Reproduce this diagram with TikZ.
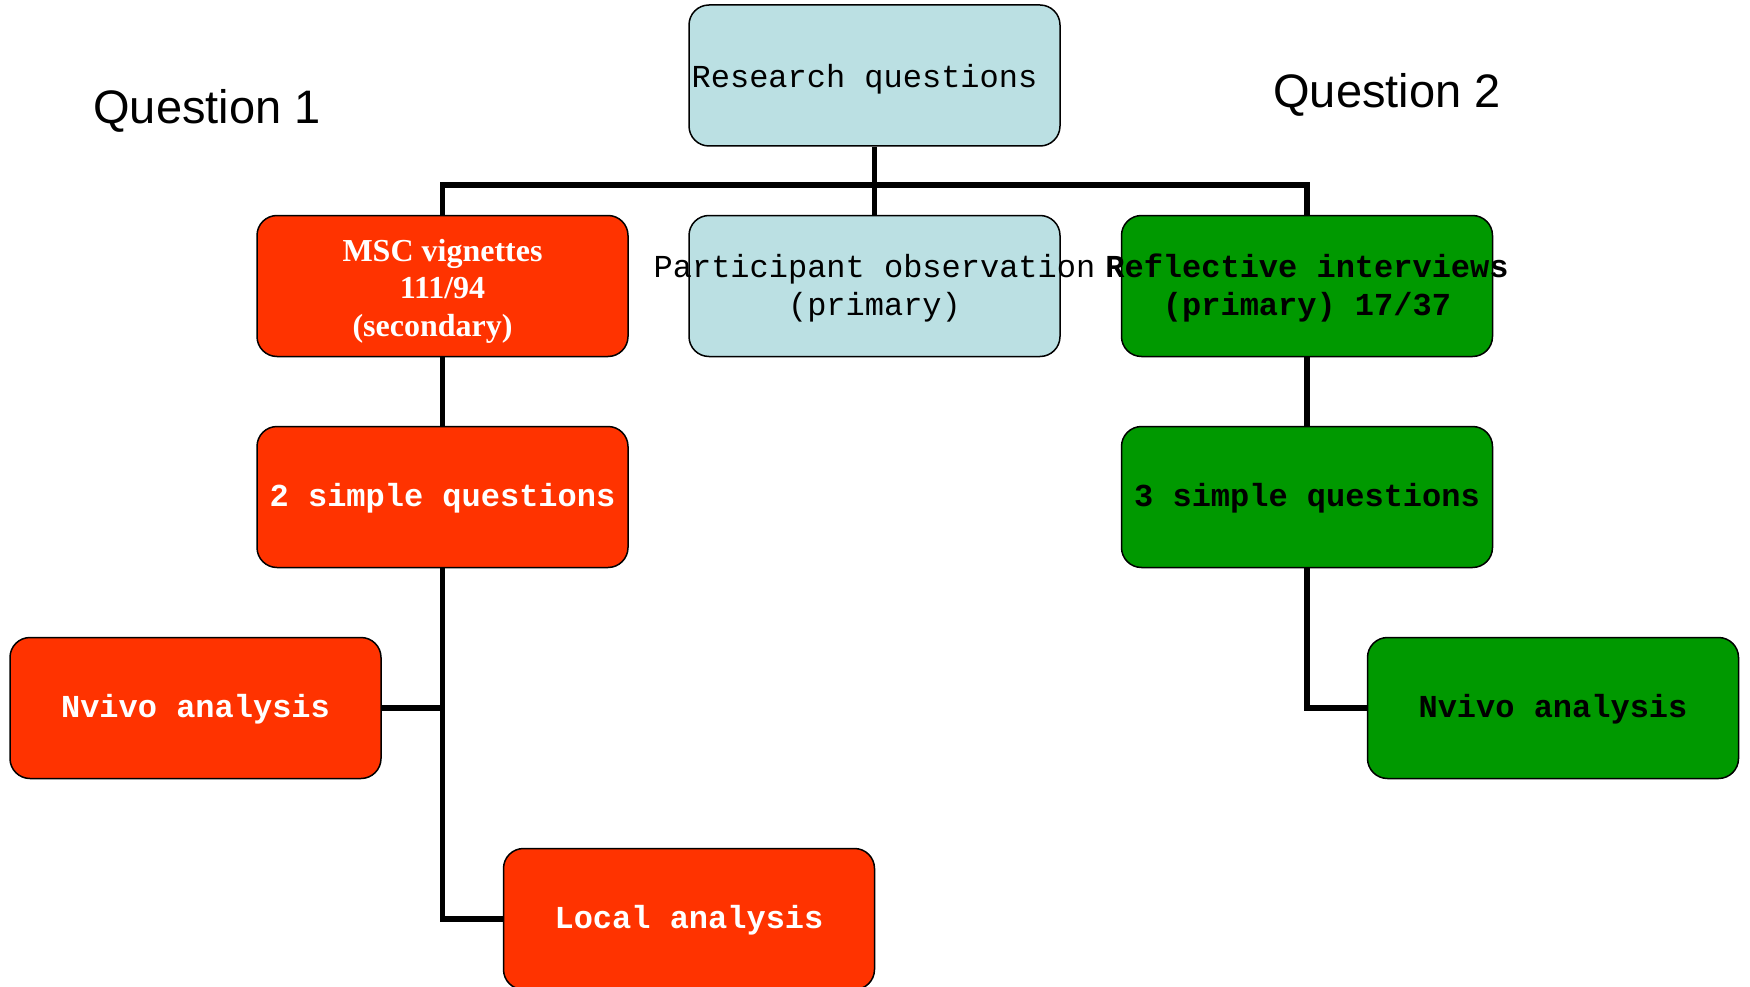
\documentclass[tikz,border=0pt]{standalone}
\usepackage{fontspec}
\setmainfont{Liberation Serif}
\setmonofont{Liberation Mono}
\newfontfamily\arialfont{Liberation Sans}
\definecolor{boxblue}{RGB}{187,224,227}
\definecolor{boxred}{RGB}{255,51,0}
\definecolor{boxgreen}{RGB}{0,153,0}
\newcommand{\ctr}[2][2pt]{\makebox[0pt][c]{\raisebox{-#1}[\height][\depth]{#2}}}
\tikzset{
  box/.style={draw=black, line width=1.5pt, rounded corners=20pt,
    minimum width=371pt, minimum height=141pt, inner sep=0pt, align=center,
    font=\ttfamily\fontsize{32}{38}\selectfont},
  bluebox/.style={box, fill=boxblue, text=black},
  redbox/.style={box, fill=boxred, text=white, font=\ttfamily\bfseries\fontsize{32}{38}\selectfont},
  greenbox/.style={box, fill=boxgreen, text=black, font=\ttfamily\bfseries\fontsize{32}{38}\selectfont},
  conn/.style={draw=black, line width=5.5pt},
  qlabel/.style={font=\arialfont\fontsize{47}{56}\selectfont, inner sep=0pt}
}
\begin{document}
\begin{tikzpicture}[x=1pt,y=-1pt]
\useasboundingbox (0,0) rectangle (1750,987);
\fill[white] (0,0) rectangle (1750,987);
\coordinate (bar) at (874.5,185);
\node[bluebox] (rq) at (874.5,75.5) {\ctr[3.5pt]{Research questions\hspace*{20pt}}};
\node[redbox, font=\rmfamily\bfseries\fontsize{32}{37.5}\selectfont] (msc) at (442.5,286) {\ctr[5pt]{MSC vignettes}\\\ctr[5pt]{111/94}\\\ctr[5pt]{(secondary)\hspace*{20pt}}};
\node[bluebox] (po) at (874.5,286) {\ctr{Participant observation}\\\ctr{(primary)}};
\node[greenbox] (ri) at (1307,286) {\ctr{Reflective interviews}\\\ctr{(primary) 17/37}};
\node[redbox] (sq2) at (442.5,497) {\ctr[1.5pt]{2 simple questions}};
\node[greenbox] (sq3) at (1307,497) {\ctr[1.5pt]{3 simple questions}};
\node[redbox] (nv1) at (195.5,708) {\ctr[1.5pt]{Nvivo analysis}};
\node[greenbox] (nv2) at (1553,708) {\ctr[1.5pt]{Nvivo analysis}};
\node[redbox] (la) at (689,919) {\ctr[1.5pt]{Local analysis}};
\node[qlabel] (q1) at (207,110.5) {Question 1};
\node[qlabel] (q2) at (1387,94.5) {Question 2};
% connectors
\draw[conn] (rq.south) -- (po.north);
\draw[conn] (rq.south |- bar) -| (msc.north);
\draw[conn] (rq.south |- bar) -| (ri.north);
\draw[conn] (msc.south) -- (sq2.north);
\draw[conn] (ri.south) -- (sq3.north);
\draw[conn] (sq2.south) |- (nv1.east);
\draw[conn] (sq2.south) |- (la.west);
\draw[conn] (sq3.south) |- (nv2.west);
\end{tikzpicture}
\end{document}
